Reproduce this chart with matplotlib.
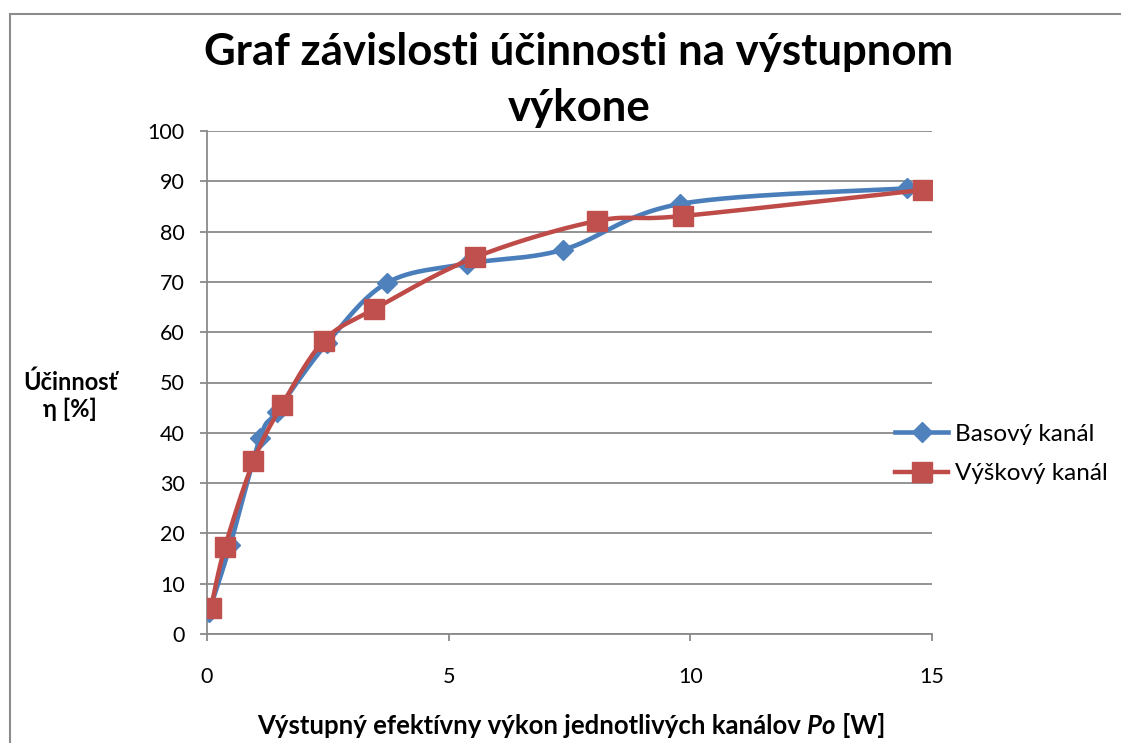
import numpy as np
import matplotlib
matplotlib.use("Agg")
import matplotlib.pyplot as plt
from matplotlib.patches import Rectangle

# values
bas_x = [0.04, 0.48, 1.10, 1.44, 2.48, 3.72, 5.37, 7.37, 9.79, 14.48]
bas_y = [4.4, 17.7, 39.0, 44.2, 57.8, 69.8, 73.6, 76.4, 85.5, 88.6]
vys_x = [0.08, 0.37, 0.96, 1.55, 2.42, 3.46, 5.55, 8.06, 9.84, 14.82]
vys_y = [5.1, 17.2, 34.3, 45.5, 58.3, 64.6, 74.9, 82.1, 83.1, 88.3]
series_names = ["Basový kanál", "Výškový kanál"]
x_ticks = [0, 5, 10, 15]
y_ticks = list(range(0, 101, 10))

FONT = ["Lato", "DejaVu Sans"]
plt.rcParams["font.family"] = FONT


def smooth(ax, xs, ys, n=30):
    # Excel-like smoothed line: Catmull-Rom bezier in screen space
    pts = ax.transData.transform(np.column_stack([xs, ys]))
    out = []
    for i in range(len(pts) - 1):
        p0 = pts[i - 1] if i > 0 else pts[i]
        p1 = pts[i]
        p2 = pts[i + 1]
        p3 = pts[i + 2] if i + 2 < len(pts) else pts[i + 1]
        c1 = p1 + (p2 - p0) / 6
        c2 = p2 - (p3 - p1) / 6
        t = np.linspace(0, 1, n)[:, None]
        seg = ((1 - t) ** 3) * p1 + 3 * ((1 - t) ** 2) * t * c1 + 3 * (1 - t) * t ** 2 * c2 + t ** 3 * p2
        out.append(seg if i == 0 else seg[1:])
    out = np.vstack(out)
    data = ax.transData.inverted().transform(out)
    return data[:, 0], data[:, 1]


W, H = 1121, 743
fig = plt.figure(figsize=(W / 100, H / 100), dpi=100)
ax = fig.add_axes([207 / W, 1 - 634 / H, 725 / W, 503 / H])
ax.set_xlim(0, 15)
ax.set_ylim(0, 100)

grid_c = "#8a8a8a"
for s in ["top", "right"]:
    ax.spines[s].set_visible(False)
for s in ["left", "bottom"]:
    ax.spines[s].set_color(grid_c)
    ax.spines[s].set_linewidth(1.3)
ax.yaxis.grid(True, color=grid_c, lw=1.3)
ax.set_axisbelow(True)
ax.set_xticks(x_ticks)
ax.set_yticks(y_ticks)
ax.tick_params(axis="both", direction="out", length=5, width=1.3, color=grid_c,
               labelsize=15.5, labelcolor="black")
ax.tick_params(axis="y", pad=11)
ax.tick_params(axis="x", pad=19)

fig.canvas.draw()

blue_line, blue_mark = "#4a7ebb", "#4f81bd"
red_line, red_mark = "#be4b48", "#c0504d"

sx, sy = smooth(ax, bas_x, bas_y)
ax.plot(sx, sy, color=blue_line, lw=3.3, solid_capstyle="round", zorder=3)
ax.plot(bas_x, bas_y, ls="none", marker="D", ms=10, color=blue_mark, mec=blue_mark, zorder=4)
sx, sy = smooth(ax, vys_x, vys_y)
ax.plot(sx, sy, color=red_line, lw=3.2, solid_capstyle="round", zorder=5)
ax.plot(vys_x, vys_y, ls="none", marker="s", ms=14, color=red_mark, mec=red_mark, zorder=6)

# legend handles
h1, = ax.plot([], [], color=blue_line, lw=3.3, marker="D", ms=10, mfc=blue_mark, mec=blue_mark)
h2, = ax.plot([], [], color=red_line, lw=3.2, marker="s", ms=14, mfc=red_mark, mec=red_mark)
fig.legend([h1, h2], series_names, loc="center left", bbox_to_anchor=(895 / W, 1 - 454 / H),
           frameon=False, fontsize=17.5, handlelength=2.2, handletextpad=0.25,
           labelspacing=0.75, borderpad=0, borderaxespad=0, numpoints=1)

fig.text(579 / W, 1 - 80 / H, "Graf závislosti účinnosti na výstupnom\nvýkone",
         ha="center", va="center", fontsize=31.5, fontweight="bold", linespacing=1.5)

fig.text(70 / W, 1 - 396 / H, "Účinnosť\nη [%]", ha="center", va="center",
         fontsize=17, fontweight="bold", linespacing=1.2, multialignment="center")

# x label with italic "Po"
parts = [("Výstupný efektívny výkon jednotlivých kanálov ", "normal"),
         ("Po", "italic"), (" [W]", "normal")]
r = fig.canvas.get_renderer()
texts = [fig.text(0, 1 - 726 / H, p, fontsize=18.5, fontweight="bold", style=st, va="center")
         for p, st in parts]
widths = [t.get_window_extent(r).width for t in texts]
x0 = 571 - sum(widths) / 2
for t, w in zip(texts, widths):
    t.set_x(x0 / W)
    x0 += w

# chart-area border (cut by the image edge on the right and bottom)
fig.patches.append(Rectangle((10 / W, -0.1), 1.2, 1.1 - 14 / H, transform=fig.transFigure,
                             fill=False, ec="#8c8c8c", lw=1.5))

fig.savefig("out.png", dpi=100)
